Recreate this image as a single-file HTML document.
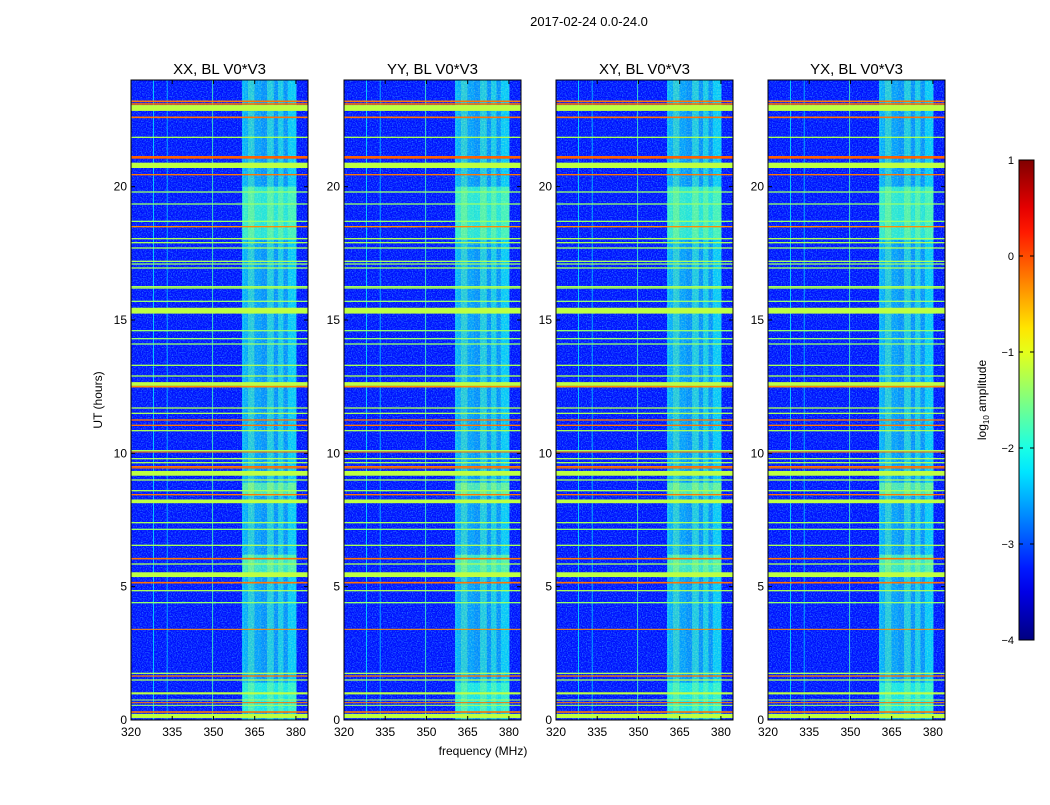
<!DOCTYPE html>
<html><head><meta charset="utf-8">
<style>
body{margin:0;background:#fff;font-family:"Liberation Sans",sans-serif;}
svg text{font-family:"Liberation Sans",sans-serif;}
</style></head>
<body>
<svg id="fig" width="1050" height="800" xmlns="http://www.w3.org/2000/svg">
<defs>
<filter id="noise" x="0" y="0" width="100%" height="100%">
<feTurbulence type="fractalNoise" baseFrequency="0.8" numOctaves="1" seed="3"/>
<feColorMatrix type="matrix" values="0 0 0 0 0.05  0 0 0 0 0.45  0 0 0 0 1  0 0 0 -2.6 1.5"/>
</filter>
<filter id="noise2" x="0" y="0" width="100%" height="100%">
<feTurbulence type="fractalNoise" baseFrequency="0.7" numOctaves="1" seed="7"/>
<feColorMatrix type="matrix" values="0 0 0 0 0.55  0 0 0 0 1  0 0 0 0 0.5  0 0 0 -2.4 1.4"/>
</filter>
</defs>
<text x="589" y="26" font-size="13" text-anchor="middle">2017-02-24 0.0-24.0</text>
<text x="483" y="755" font-size="12" text-anchor="middle">frequency (MHz)</text>
<text transform="translate(102,400) rotate(-90)" font-size="12" text-anchor="middle">UT (hours)</text>
<text transform="translate(986,400) rotate(-90)" font-size="12" text-anchor="middle">log<tspan font-size="8" dy="3">10</tspan><tspan dy="-3"> amplitude</tspan></text>
</svg>
<script>
// ---- data ----
const panelTitles = ["XX, BL V0*V3","YY, BL V0*V3","XY, BL V0*V3","YX, BL V0*V3"];
const backgroundLevel = -3.3;
// RFI time rows (hours), widths (hours), log10 amplitude
const rfiHours  = [23.2,23.1,22.95,22.6,21.85,21.1,20.8,20.45,19.8,19.35,18.7,18.5,18.05,17.9,17.7,17.2,17.1,16.95,16.25,16.2,15.7,15.35,14.6,14.3,14.1,13.3,12.9,12.6,12.5,11.7,11.5,11.25,11.05,10.85,10.1,10.05,9.8,9.65,9.5,9.45,9.25,9.0,8.6,8.45,8.2,7.4,7.15,6.55,6.05,5.85,5.45,5.15,4.85,4.4,3.4,1.75,1.65,1.5,1.0,0.75,0.65,0.55,0.3,0.15];
const rfiWidths = [0.06,0.06,0.22,0.06,0.05,0.1,0.2,0.05,0.05,0.05,0.05,0.05,0.05,0.05,0.05,0.05,0.05,0.05,0.05,0.05,0.05,0.22,0.05,0.05,0.05,0.05,0.05,0.14,0.06,0.05,0.05,0.05,0.05,0.05,0.05,0.04,0.05,0.05,0.05,0.04,0.18,0.05,0.05,0.05,0.14,0.05,0.05,0.05,0.06,0.05,0.18,0.06,0.05,0.05,0.04,0.05,0.05,0.05,0.08,0.04,0.04,0.04,0.06,0.16];
const rfiLevels = [-0.2,-0.2,-1.2,-0.2,-1.3,-0.1,-1.2,-0.2,-1.4,-1.4,-1.4,-0.3,-1.3,-1.3,-1.3,-1.3,-1.4,-1.3,-1.3,-1.3,-1.4,-1.2,-1.4,-1.4,-1.4,-1.3,-1.3,-1.2,-0.3,-1.3,-1.3,-0.2,-0.2,-1.3,-1.3,-0.2,-1.3,-1.3,-0.2,-0.2,-1.2,-1.3,-1.3,-0.2,-1.2,-1.3,-1.4,-1.3,-0.2,-1.3,-1.2,-0.2,-1.3,-1.4,-0.3,-1.3,-0.2,-1.3,-1.2,-1.3,-0.2,-1.3,-0.2,-1.2];
// spectral band columns (MHz start, width MHz, level)
const bandFreqs  = [360.5,362.5,365,367.5,369.5,372,373.5,375.5,377];
const bandWidths = [2,2.5,2.5,2,2.5,1.5,2,1.5,3.2];
const bandLevels = [-2.3,-1.9,-2.4,-2.5,-1.95,-2.5,-2.0,-2.5,-2.1];
// time segments where band is brighter (start hour, end hour, level)
const brightStart = [18.0,8.4,5.5,0.3];
const brightEnd   = [20.0,8.9,6.2,1.4];
const brightLevel = [-1.6,-1.4,-1.5,-1.7];
// narrow-band channels (MHz, level)
const chanFreqs  = [328,333,349.5,360.5];
const chanLevels = [-2.2,-2.4,-1.8,-2.0];
const xTicks = [320,335,350,365,380];
const yTicks = [0,5,10,15,20];
const cbTicks = [1,0,-1,-2,-3,-4];

// ---- geometry ----
const panelLeft = [131,344,556,768], PW=177, PT=80, PH=640;
const F0=320, F1=384.4, H0=0, H1=24;
const VMIN=-4, VMAX=1;
const NS="http://www.w3.org/2000/svg";
const svg=document.getElementById('fig');
function el(tag,attrs,parent){const e=document.createElementNS(NS,tag);for(const k in attrs)e.setAttribute(k,attrs[k]);(parent||svg).appendChild(e);return e;}
function jet(v){const t=Math.max(0,Math.min(1,(v-VMIN)/(VMAX-VMIN)));
 const c=x=>Math.round(255*Math.max(0,Math.min(1,x)));
 return `rgb(${c(1.5-Math.abs(4*t-3))},${c(1.5-Math.abs(4*t-2))},${c(1.5-Math.abs(4*t-1))})`;}

panelTitles.forEach((title,p)=>{
 const L=panelLeft[p];
 const xs=f=>L+(f-F0)/(F1-F0)*PW;
 const ys=h=>PT+PH-(h-H0)/(H1-H0)*PH;
 const g=el('g',{});
 
 
 const bg=el('rect',{x:L,y:PT,width:PW,height:PH,fill:jet(backgroundLevel)},g);
 
 
 const nz=el('rect',{x:L,y:PT,width:PW,height:PH,filter:'url(#noise)',opacity:0.6},g);
 
 
 chanFreqs.forEach((f,i)=>{
  const r=el('rect',{x:xs(f),y:PT,width:1,height:PH,fill:jet(chanLevels[i]),opacity:0.8},g);
  
  
 });
 bandFreqs.forEach((f,i)=>{
  const w=xs(f+bandWidths[i])-xs(f);
  const r=el('rect',{x:xs(f),y:PT,width:w,height:PH,fill:jet(bandLevels[i]),opacity:0.75},g);
  
  
  brightStart.forEach((s,j)=>{
   const b=el('rect',{x:xs(f),y:ys(brightEnd[j]),width:w,height:ys(s)-ys(brightEnd[j]),fill:jet(brightLevel[j]+(bandLevels[i]+1.9)*0.5),opacity:0.75},g);
   
   
  });
 });
 const bn=el('rect',{x:xs(bandFreqs[0]),y:PT,width:xs(bandFreqs[8]+bandWidths[8])-xs(bandFreqs[0]),height:PH,filter:'url(#noise2)',opacity:0.35},g);
 
 
 rfiHours.forEach((h,i)=>{
  const hh=Math.max(1,ys(h)-ys(h+rfiWidths[i]));
  const r=el('rect',{x:L,y:ys(h+rfiWidths[i]/2),width:PW,height:hh,fill:jet(rfiLevels[i])},g);
  
  
 });
 const fr=el('rect',{x:L,y:PT,width:PW,height:PH,fill:'none',stroke:'#000','stroke-width':1},g);
 
 
 const t=el('text',{x:L+PW/2,y:74,'font-size':15,'text-anchor':'middle'},g);
 t.textContent=title;
 
 
 xTicks.forEach(v=>{
  const x=xs(v);
  el('line',{x1:x,y1:PT+PH,x2:x,y2:PT+PH-4,stroke:'#000'},g);
  el('line',{x1:x,y1:PT,x2:x,y2:PT+4,stroke:'#000'},g);
  const tx=el('text',{x:x,y:PT+PH+16,'font-size':12,'text-anchor':'middle'},g);
  tx.textContent=v;
  
  
 });
 yTicks.forEach(v=>{
  const y=ys(v);
  el('line',{x1:L,y1:y,x2:L+4,y2:y,stroke:'#000'},g);
  el('line',{x1:L+PW,y1:y,x2:L+PW-4,y2:y,stroke:'#000'},g);
  const ty=el('text',{x:L-4,y:y+4,'font-size':12,'text-anchor':'end'},g);
  ty.textContent=v;
  
  
 });
});

// colorbar
const CBX=1019,CBW=15,CBT=160,CBH=480;
const grad=el('linearGradient',{id:'jetg',x1:0,y1:1,x2:0,y2:0},svg.querySelector('defs'));
for(let i=0;i<=20;i++){el('stop',{offset:i/20,'stop-color':jet(VMIN+(VMAX-VMIN)*i/20)},grad);}
const cb=el('rect',{x:CBX,y:CBT,width:CBW,height:CBH,fill:'url(#jetg)',stroke:'#000','stroke-width':1});


cbTicks.forEach(v=>{
 const y=CBT+CBH-(v-VMIN)/(VMAX-VMIN)*CBH;
 el('line',{x1:CBX,y1:y,x2:CBX+4,y2:y,stroke:'#000'});
 el('line',{x1:CBX+CBW,y1:y,x2:CBX+CBW-4,y2:y,stroke:'#000'});
 const t=el('text',{x:CBX-5,y:y+4,'font-size':11,'text-anchor':'end'});
 t.textContent=v<0?'\u2212'+Math.abs(v):String(v);
 
 
});
</script>
</body></html>
